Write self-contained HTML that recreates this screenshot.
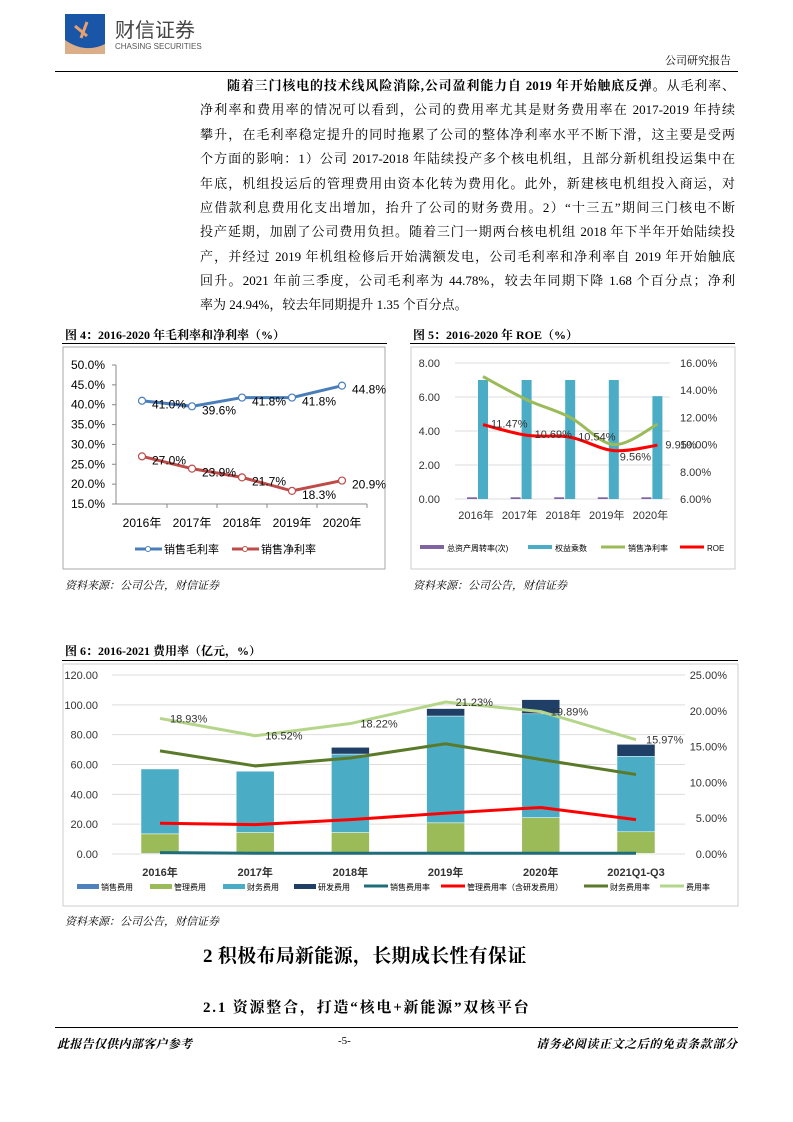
<!DOCTYPE html>
<html><head><meta charset="utf-8">
<style>
body{margin:0;background:#fff;}
#page{position:relative;width:793px;height:1122px;overflow:hidden;font-family:"Liberation Serif","Noto Serif CJK SC",serif;color:#000;}
.ln{position:absolute;left:200px;width:535px;font-size:13px;line-height:16px;text-align:justify;text-align-last:justify;white-space:nowrap;}
.abs{position:absolute;white-space:nowrap;}
.cap{font-size:12px;font-weight:bold;}
.src{font-size:11px;font-style:italic;}
svg text{font-family:"Liberation Sans","Noto Sans CJK SC",sans-serif;}
</style></head>
<body>
<div id="page">
<svg class="abs" style="left:65px;top:14px" width="42" height="42">
<rect x="0" y="0" width="40" height="40" fill="#1a56a8"/><path d="M0 26 Q20 40 40 30 L40 40 L0 40Z" fill="#d9ae88"/><path d="M10 12 L22 22 M22 8 L16 24" stroke="#e8a070" stroke-width="3"/>
</svg>
<div class="abs" style="left:115px;top:14px;font-family:'Liberation Sans','Noto Sans CJK SC',sans-serif;color:#444;font-size:20px;">财信证券</div>
<div class="abs" style="left:115px;top:42px;font-family:'Liberation Sans',sans-serif;color:#555;font-size:8px;">CHASING SECURITIES</div>
<div class="abs" style="left:665px;top:52px;font-size:11px;">公司研究报告</div>
<div class="abs" style="left:55px;top:71px;width:683px;height:1px;background:#000"></div>

<div>
<div class="ln" style="top:78px;left:227px;width:508px"><b>随着三门核电的技术线风险消除,公司盈利能力自 2019 年开始触底反弹。</b>从毛利率、</div>
<div class="ln" style="top:102px">净利率和费用率的情况可以看到，公司的费用率尤其是财务费用率在 2017-2019 年持续</div>
<div class="ln" style="top:127px">攀升，在毛利率稳定提升的同时拖累了公司的整体净利率水平不断下滑，这主要是受两</div>
<div class="ln" style="top:151px">个方面的影响：1）公司 2017-2018 年陆续投产多个核电机组，且部分新机组投运集中在</div>
<div class="ln" style="top:176px">年底，机组投运后的管理费用由资本化转为费用化。此外，新建核电机组投入商运，对</div>
<div class="ln" style="top:200px">应借款利息费用化支出增加，抬升了公司的财务费用。2）“十三五”期间三门核电不断</div>
<div class="ln" style="top:224px">投产延期，加剧了公司费用负担。随着三门一期两台核电机组 2018 年下半年开始陆续投</div>
<div class="ln" style="top:249px">产，并经过 2019 年机组检修后开始满额发电，公司毛利率和净利率自 2019 年开始触底</div>
<div class="ln" style="top:273px">回升。2021 年前三季度，公司毛利率为 44.78%，较去年同期下降 1.68 个百分点；净利</div>
<div class="ln" style="top:297px;text-align-last:left">率为 24.94%，较去年同期提升 1.35 个百分点。</div>
</div>

<div class="abs cap" style="left:65px;top:326px">图 4：2016-2020 年毛利率和净利率（%）</div>
<div class="abs cap" style="left:413px;top:326px">图 5：2016-2020 年 ROE（%）</div>
<div class="abs" style="left:62px;top:343px;width:325px;height:1px;background:#000"></div>
<div class="abs" style="left:410px;top:343px;width:325px;height:1px;background:#000"></div>
<div class="abs src" style="left:65px;top:577px">资料来源：公司公告，财信证券</div>
<div class="abs src" style="left:413px;top:577px">资料来源：公司公告，财信证券</div>
<div class="abs cap" style="left:65px;top:642px">图 6：2016-2021 费用率（亿元，%）</div>
<div class="abs" style="left:62px;top:660px;width:676px;height:1px;background:#000"></div>
<div class="abs src" style="left:65px;top:913px">资料来源：公司公告，财信证券</div>
<div class="abs" style="left:203px;top:941px;font-size:19px;font-weight:bold;letter-spacing:0.3px">2 积极布局新能源，长期成长性有保证</div>
<div class="abs" style="left:203px;top:996px;font-size:15px;font-weight:bold;letter-spacing:1.8px">2.1 资源整合，打造“核电+新能源”双核平台</div>
<div class="abs" style="left:55px;top:1027px;width:683px;height:1px;background:#000"></div>
<div class="abs" style="left:57px;top:1035px;font-size:12px;font-weight:bold;font-style:italic;letter-spacing:0.3px">此报告仅供内部客户参考</div>
<div class="abs" style="left:338px;top:1035px;font-size:11px">-5-</div>
<div class="abs" style="left:536px;top:1035px;font-size:12px;font-weight:bold;font-style:italic;letter-spacing:0.6px">请务必阅读正文之后的免责条款部分</div>

<svg id="ch" class="abs" style="left:0;top:0" width="793" height="1122"></svg>
</div>
<script>
// Figure 4
const f4Cats=["2016年","2017年","2018年","2019年","2020年"];
const f4Gross=[41.0,39.6,41.8,41.8,44.8];
const f4Net=[27.0,23.9,21.7,18.3,20.9];
const f4Ticks=[15,20,25,30,35,40,45,50];
// Figure 5
const f5Cats=["2016年","2017年","2018年","2019年","2020年"];
const f5Turnover=[0.1,0.1,0.1,0.1,0.1];
const f5Equity=[7.0,7.0,7.0,7.0,6.05];
const f5NetMargin=[15.0,13.3,12.0,10.0,11.5];
const f5Roe=[11.47,10.69,10.54,9.56,9.95];
const f5LTicks=[0,2,4,6,8];
const f5RTicks=[6,8,10,12,14,16];
// Figure 6
const f6Cats=["2016年","2017年","2018年","2019年","2020年","2021Q1-Q3"];
const f6Sales=[0.5,0.4,0.4,0.4,0.4,0.4];
const f6Admin=[13,14,14,20.5,24,14.5];
const f6Fin=[43.5,41.1,52.6,71.6,69.6,50.6];
const f6RD=[0,0,4.5,5,9.5,8];
const f6SalesRate=[0.2,0.1,0.1,0.1,0.1,0.1];
const f6AdminRate=[4.3,4.1,4.8,5.7,6.5,4.8];
const f6FinRate=[14.4,12.3,13.4,15.4,13.2,11.1];
const f6TotalRate=[18.93,16.52,18.22,21.23,19.89,15.97];
const f6LTicks=[0,20,40,60,80,100,120];
const f6RTicks=[0,5,10,15,20,25];

const NS="http://www.w3.org/2000/svg",svg=document.getElementById('ch');
function mk(t,a,p){const e=document.createElementNS(NS,t);for(const k in a)e.setAttribute(k,a[k]);(p||svg).appendChild(e);return e;}
function tx(x,y,s,a,p){const e=mk('text',Object.assign({x:x,y:y,'font-size':11,fill:'#000'},a),p);e.textContent=s;return e;}
function smooth(pts){let d='M'+pts[0][0]+' '+pts[0][1];for(let i=1;i<pts.length;i++){const p0=pts[i-2]||pts[i-1],p1=pts[i-1],p2=pts[i],p3=pts[i+1]||p2;d+=' C'+(p1[0]+(p2[0]-p0[0])/6)+' '+(p1[1]+(p2[1]-p0[1])/6)+' '+(p2[0]-(p3[0]-p1[0])/6)+' '+(p2[1]-(p3[1]-p1[1])/6)+' '+p2[0]+' '+p2[1];}return d;}

// ---- Figure 4
let g=mk('g',{});
mk('rect',{x:63,y:347,width:322,height:222,fill:'none',stroke:'#aaa'},g);
const y4=v=>504-(v-15)/35*139, x4=i=>142+i*50;
mk('line',{x1:116,y1:365,x2:116,y2:504,stroke:'#888'},g);mk('line',{x1:116,y1:504,x2:367,y2:504,stroke:'#888'},g);
f4Ticks.forEach(t=>{mk('line',{x1:112,y1:y4(t),x2:116,y2:y4(t),stroke:'#888'},g);tx(105,y4(t)+4,t.toFixed(1)+'%',{'text-anchor':'end','font-size':12},g);});
f4Cats.forEach((c,i)=>{tx(x4(i),527,c,{'text-anchor':'middle','font-size':12},g);if(i<5)mk('line',{x1:x4(i)+25,y1:504,x2:x4(i)+25,y2:508,stroke:'#888'},g);});
[[f4Gross,'#4a7ebb','gross-margin'],[f4Net,'#be4b48','net-margin']].forEach(([arr,col,nm])=>{
 const l=mk('polyline',{points:arr.map((v,i)=>x4(i)+','+y4(v)).join(' '),fill:'none',stroke:col,'stroke-width':3},g);
 
 arr.forEach((v,i)=>{const p=mk('circle',{cx:x4(i),cy:y4(v),r:3.5,fill:'#fff',stroke:col,'stroke-width':1.2},g);
  
  tx(x4(i)+10,y4(v)+8,v.toFixed(1)+'%',{'font-size':12},g);});
});
mk('line',{x1:135,y1:549,x2:162,y2:549,stroke:'#4a7ebb','stroke-width':3},g);mk('circle',{cx:148,cy:549,r:2.5,fill:'#fff',stroke:'#4a7ebb'},g);tx(164,553,'销售毛利率',{'font-size':11},g);
mk('line',{x1:232,y1:549,x2:259,y2:549,stroke:'#be4b48','stroke-width':3},g);mk('circle',{cx:245,cy:549,r:2.5,fill:'#fff',stroke:'#be4b48'},g);tx(261,553,'销售净利率',{'font-size':11},g);

// ---- Figure 5
g=mk('g',{});
mk('rect',{x:411,y:347,width:324,height:222,fill:'none',stroke:'#ccc'},g);
const y5l=v=>499-v/8*136, y5r=v=>499-(v-6)/10*136, x5=i=>483+i*43.6;
f5LTicks.forEach(t=>{mk('line',{x1:455,y1:y5l(t),x2:670,y2:y5l(t),stroke:'#ddd'},g);tx(440,y5l(t)+4,t.toFixed(2),{'text-anchor':'end','font-size':11,fill:'#333'},g);});
f5RTicks.forEach(t=>tx(680,y5r(t)+4,t.toFixed(2)+'%',{'font-size':11,fill:'#333'},g));
f5Cats.forEach((c,i)=>{tx(x5(i)-7,519,c,{'text-anchor':'middle','font-size':11,fill:'#333'},g);
 let b=mk('rect',{x:x5(i)-16,y:y5l(f5Turnover[i]),width:10,height:499-y5l(f5Turnover[i]),fill:'#8064a2'},g);
 b=mk('rect',{x:x5(i)-5,y:y5l(f5Equity[i]),width:10,height:499-y5l(f5Equity[i]),fill:'#4bacc6'},g);});
let l5=mk('path',{d:smooth(f5NetMargin.map((v,i)=>[x5(i),y5r(v)])),fill:'none',stroke:'#9bbb59','stroke-width':3},g);
l5=mk('path',{d:smooth(f5Roe.map((v,i)=>[x5(i),y5r(v)])),fill:'none',stroke:'#ff0000','stroke-width':3},g);
f5Roe.forEach((v,i)=>tx(x5(i)+8+(i==3?-2:0),y5r(v)+(i==3?10:3),v.toFixed(2)+'%',{'font-size':11,fill:'#333'},g));
mk('rect',{x:420,y:545,width:24,height:4,fill:'#8064a2'},g);tx(447,551,'总资产周转率(次)',{'font-size':8},g);
mk('rect',{x:528,y:545,width:24,height:4,fill:'#4bacc6'},g);tx(555,551,'权益乘数',{'font-size':8},g);
mk('line',{x1:601,y1:547,x2:625,y2:547,stroke:'#9bbb59','stroke-width':3},g);tx(628,551,'销售净利率',{'font-size':8},g);
mk('line',{x1:680,y1:547,x2:704,y2:547,stroke:'#f00','stroke-width':3},g);tx(707,551,'ROE',{'font-size':8},g);

// ---- Figure 6
g=mk('g',{});
mk('rect',{x:63,y:664,width:675,height:242,fill:'none',stroke:'#ccc'},g);
const y6l=v=>854-v/120*179, y6r=v=>854-v/25*179, x6=i=>160+i*95.2;
f6LTicks.forEach(t=>{mk('line',{x1:112,y1:y6l(t),x2:685,y2:y6l(t),stroke:'#ddd'},g);tx(98,y6l(t)+4,t.toFixed(2),{'text-anchor':'end','font-size':11,fill:'#333'},g);});
f6RTicks.forEach(t=>tx(727,y6r(t)+4,t.toFixed(2)+'%',{'text-anchor':'end','font-size':11,fill:'#333'},g));
const stacks=[[f6Sales,'#4f81bd','sales-expense-bar'],[f6Admin,'#9bbb59','admin-expense-bar'],[f6Fin,'#4bacc6','finance-expense-bar'],[f6RD,'#1f3f66','rd-expense-bar']];
f6Cats.forEach((c,i)=>{let base=0;stacks.forEach(([arr,col,nm])=>{const v=arr[i];if(v>0){const b=mk('rect',{x:x6(i)-19,y:y6l(base+v),width:38,height:y6l(base)-y6l(base+v),fill:col,stroke:'#fff','stroke-width':0.5},g);}base+=v;});
 tx(x6(i),876,c,{'text-anchor':'middle','font-size':11,'font-weight':'bold',fill:'#333'},g);});
[[f6SalesRate,'#1f6d7a','sales-rate-line'],[f6AdminRate,'#ff0000','admin-rate-line'],[f6FinRate,'#5a7a2a','finance-rate-line'],[f6TotalRate,'#b5d68a','total-rate-line']].forEach(([arr,col,nm])=>{
 const l=mk('polyline',{points:arr.map((v,i)=>x6(i)+','+y6r(v)).join(' '),fill:'none',stroke:col,'stroke-width':3},g);});
f6TotalRate.forEach((v,i)=>tx(x6(i)+10,y6r(v)+4,v.toFixed(2)+'%',{'font-size':11,fill:'#333'},g));
const lg=[['rect','#4f81bd','销售费用',77],['rect','#9bbb59','管理费用',150],['rect','#4bacc6','财务费用',223],['rect','#1f3f66','研发费用',294],['line','#1f6d7a','销售费用率',364],['line','#ff0000','管理费用率（含研发费用）',441],['line','#5a7a2a','财务费用率',584],['line','#b5d68a','费用率',660]];
lg.forEach(([t,col,s,x])=>{if(t=='rect')mk('rect',{x:x,y:884,width:22,height:5,fill:col},g);else mk('line',{x1:x,y1:886,x2:x+24,y2:886,stroke:col,'stroke-width':3},g);tx(x+(t=='rect'?24:26),890,s,{'font-size':8},g);});
</script>
</body></html>
